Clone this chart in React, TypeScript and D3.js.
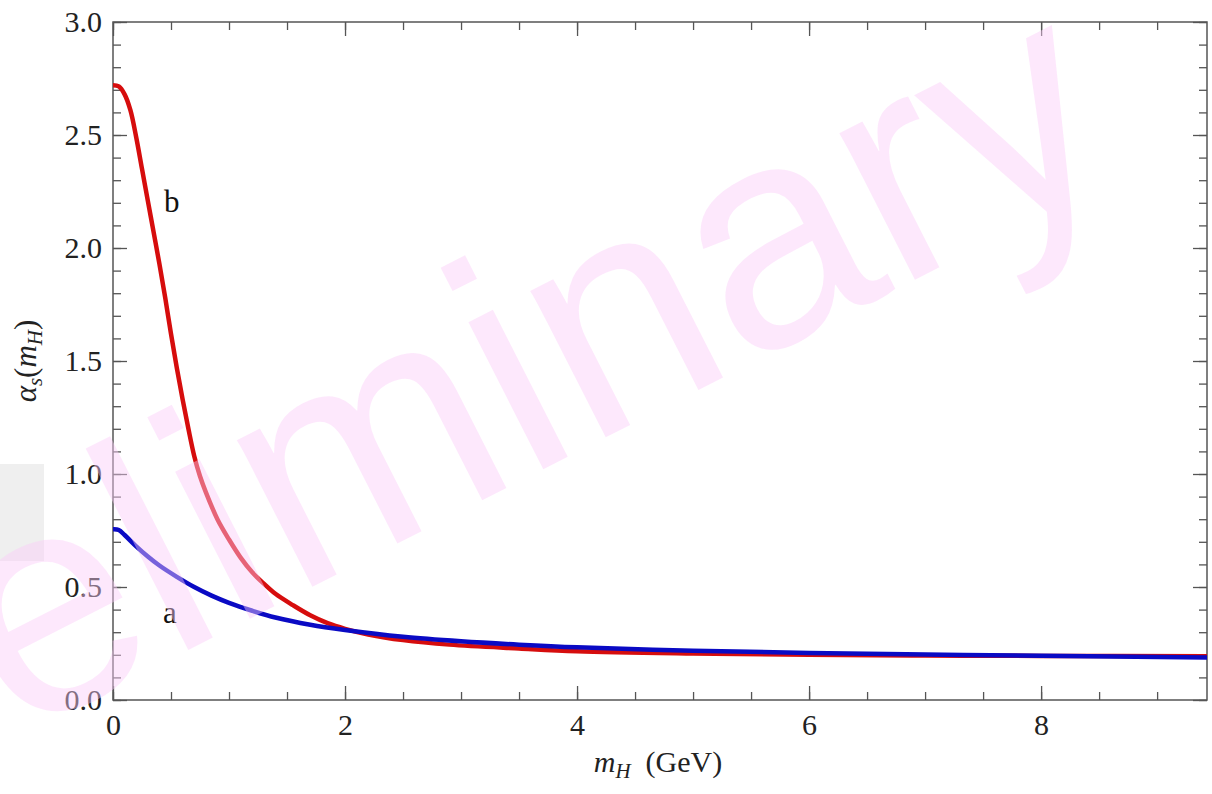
import React, { useRef, useEffect } from "react";
import * as d3 from "d3";

// m_H (GeV) sample points
const massB = [0, 0.05, 0.1, 0.15, 0.2, 0.25, 0.3, 0.35, 0.4, 0.45, 0.5, 0.55, 0.6, 0.65, 0.7, 0.75, 0.8, 0.9, 1.0, 1.1, 1.2, 1.3, 1.4, 1.55, 1.7, 1.85, 2.0, 2.2, 2.5, 2.9, 3.5, 4.0, 5.0, 6.0, 7.0, 8.0, 9.43];
const alphaB = [2.72, 2.715, 2.68, 2.61, 2.49, 2.35, 2.21, 2.07, 1.93, 1.78, 1.62, 1.47, 1.33, 1.2, 1.08, 0.99, 0.92, 0.8, 0.71, 0.63, 0.565, 0.515, 0.47, 0.42, 0.375, 0.34, 0.315, 0.29, 0.265, 0.245, 0.228, 0.216, 0.206, 0.2, 0.197, 0.195, 0.194];

const massA = [0, 0.05, 0.1, 0.2, 0.3, 0.4, 0.55, 0.7, 0.85, 1.0, 1.2, 1.4, 1.7, 2.0, 2.5, 3.0, 3.5, 4.0, 5.0, 6.0, 7.0, 8.0, 9.43];
const alphaA = [0.755, 0.752, 0.73, 0.68, 0.635, 0.595, 0.545, 0.5, 0.462, 0.43, 0.395, 0.365, 0.333, 0.31, 0.28, 0.26, 0.245, 0.233, 0.218, 0.208, 0.201, 0.196, 0.188];

const xMajor = [0, 2, 4, 6, 8];
const yMajor = [0, 0.5, 1.0, 1.5, 2.0, 2.5, 3.0];

export default function App() {
  const ref = useRef<SVGSVGElement | null>(null);

  useEffect(() => {
    if (!ref.current) return;
    const svg = d3.select(ref.current);
    svg.selectAll("*").remove();

    const W = 1212;
    const H = 794;
    const margin = { top: 22, right: 5, bottom: 94, left: 113 };
    const serif = "'Liberation Serif', 'Times New Roman', serif";
    const frame = "#555";

    const x = d3.scaleLinear().domain([0, 9.43]).range([margin.left, W - margin.right]);
    const y = d3.scaleLinear().domain([0, 3]).range([H - margin.bottom, margin.top]);

    svg.append("rect").attr("width", W).attr("height", H).attr("fill", "#fff");

    // grey block at left edge
    svg.append("rect").attr("x", 0).attr("y", 464).attr("width", 44).attr("height", 97).attr("fill", "#efefef");

    const xMinor = d3.range(0, 9.5, 0.5).filter((v) => v <= 9.43);
    const yMinor = d3.range(0, 3.01, 0.1);

    const styleAxis = (g: d3.Selection<SVGGElement, unknown, null, undefined>) => {
      g.select(".domain").remove();
      g.selectAll(".tick line").attr("stroke", frame).attr("stroke-width", 1.3);
      g.selectAll(".tick text").attr("fill", "#222").attr("font-family", serif).attr("font-size", 30);
    };

    const bottom = H - margin.bottom;
    const right = W - margin.right;

    // bottom
    svg.append("g").attr("transform", `translate(0,${bottom})`)
      .call(d3.axisBottom(x).tickValues(xMinor).tickSize(-8).tickFormat(() => ""))
      .call(styleAxis);
    svg.append("g").attr("transform", `translate(0,${bottom})`)
      .call(d3.axisBottom(x).tickValues(xMajor).tickSize(-14).tickPadding(14).tickFormat(d3.format("d")))
      .call(styleAxis);
    // top
    svg.append("g").attr("transform", `translate(0,${margin.top})`)
      .call(d3.axisTop(x).tickValues(xMinor).tickSize(-8).tickFormat(() => ""))
      .call(styleAxis);
    svg.append("g").attr("transform", `translate(0,${margin.top})`)
      .call(d3.axisTop(x).tickValues(xMajor).tickSize(-14).tickFormat(() => ""))
      .call(styleAxis);
    // left
    svg.append("g").attr("transform", `translate(${margin.left},0)`)
      .call(d3.axisLeft(y).tickValues(yMinor).tickSize(-8).tickFormat(() => ""))
      .call(styleAxis);
    svg.append("g").attr("transform", `translate(${margin.left},0)`)
      .call(d3.axisLeft(y).tickValues(yMajor).tickSize(-14).tickPadding(11).tickFormat(d3.format(".1f")))
      .call(styleAxis);
    // right
    svg.append("g").attr("transform", `translate(${right},0)`)
      .call(d3.axisRight(y).tickValues(yMinor).tickSize(-8).tickFormat(() => ""))
      .call(styleAxis);
    svg.append("g").attr("transform", `translate(${right},0)`)
      .call(d3.axisRight(y).tickValues(yMajor).tickSize(-14).tickFormat(() => ""))
      .call(styleAxis);

    // frame
    svg.append("rect")
      .attr("x", margin.left).attr("y", margin.top)
      .attr("width", right - margin.left).attr("height", bottom - margin.top)
      .attr("fill", "none").attr("stroke", frame).attr("stroke-width", 1.5);

    // curves
    const line = d3.line<[number, number]>()
      .x((d) => x(d[0]))
      .y((d) => y(d[1]))
      .curve(d3.curveCatmullRom.alpha(0.5));

    const clip = svg.append("clipPath").attr("id", "plotclip");
    clip.append("rect").attr("x", margin.left).attr("y", margin.top)
      .attr("width", right - margin.left).attr("height", bottom - margin.top);

    const curves = svg.append("g").attr("clip-path", "url(#plotclip)");
    curves.append("path")
      .datum(massB.map((m, i) => [m, alphaB[i]] as [number, number]))
      .attr("d", line)
      .attr("fill", "none")
      .attr("stroke", "#d60d0d")
      .attr("stroke-width", 4.5);
    curves.append("path")
      .datum(massA.map((m, i) => [m, alphaA[i]] as [number, number]))
      .attr("d", line)
      .attr("fill", "none")
      .attr("stroke", "#0a0ac4")
      .attr("stroke-width", 4.5);

    // curve labels
    svg.append("text").attr("x", 164).attr("y", 212)
      .attr("font-family", serif).attr("font-size", 31).attr("fill", "#111").text("b");
    svg.append("text").attr("x", 163).attr("y", 623)
      .attr("font-family", serif).attr("font-size", 31).attr("fill", "#111").text("a");

    // x axis title
    const xt = svg.append("text")
      .attr("x", 658).attr("y", 772)
      .attr("text-anchor", "middle")
      .attr("font-family", serif).attr("font-size", 30).attr("fill", "#222");
    xt.append("tspan").attr("font-style", "italic").text("m");
    xt.append("tspan").attr("font-style", "italic").attr("font-size", 21).attr("dy", 6).text("H");
    xt.append("tspan").attr("dy", -6).text("\u00a0\u00a0(GeV)");

    // y axis title
    const yt = svg.append("text")
      .attr("transform", "translate(36,361) rotate(-90)")
      .attr("text-anchor", "middle")
      .attr("font-family", serif).attr("font-size", 31).attr("fill", "#222");
    yt.append("tspan").attr("font-style", "italic").text("\u03b1");
    yt.append("tspan").attr("font-style", "italic").attr("font-size", 21).attr("dy", 6).text("s");
    yt.append("tspan").attr("dy", -6).text("(");
    yt.append("tspan").attr("font-style", "italic").text("m");
    yt.append("tspan").attr("font-style", "italic").attr("font-size", 21).attr("dy", 6).text("H");
    yt.append("tspan").attr("dy", -6).text(")");

    // watermark
    svg.append("text")
      .attr("transform", "translate(-263,880) rotate(-27)")
      .attr("font-family", "'Liberation Sans', Arial, sans-serif")
      .attr("font-size", 312)
      .attr("fill", "rgb(250,204,248)")
      .attr("fill-opacity", 0.45)
      .text("Preliminary");
  }, []);

  return (
    <div style={{ position: "absolute", left: 0, top: 0 }}>
      <svg ref={ref} width={1212} height={794} style={{ display: "block" }} />
    </div>
  );
}
